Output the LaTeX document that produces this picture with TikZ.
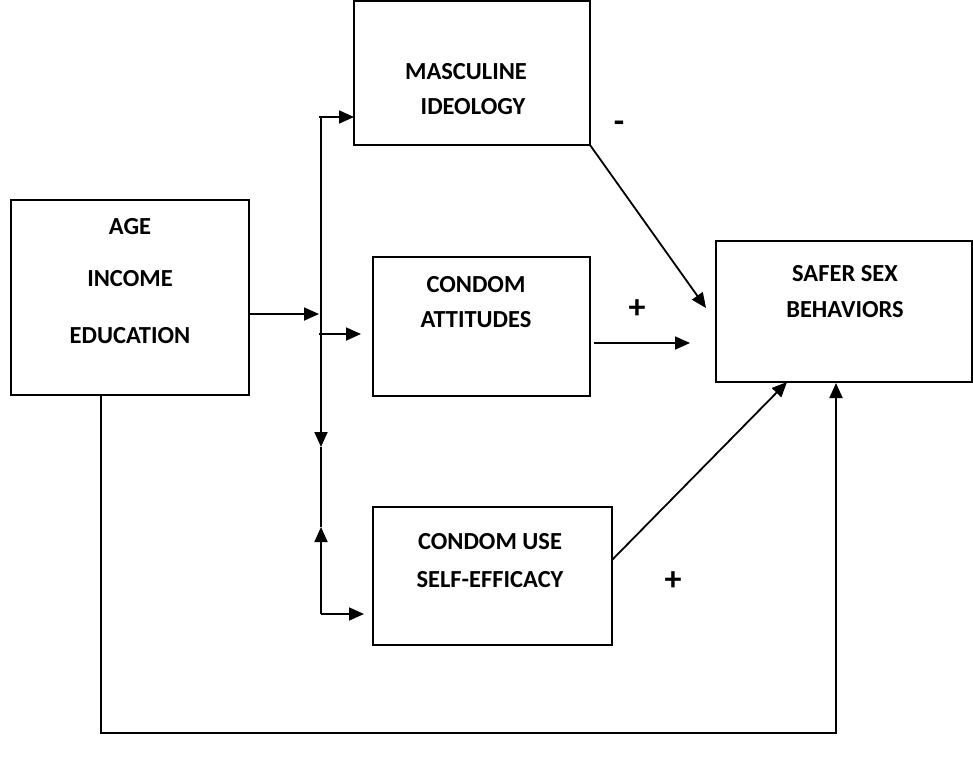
\documentclass[tikz,border=0pt]{standalone}
\usepackage{fontspec}
\setmainfont{Carlito}
\usetikzlibrary{arrows.meta}
\begin{document}
\begin{tikzpicture}[x=1pt,y=-1pt, line width=1.8pt,
 box/.style={draw, line width=1.6pt, inner sep=0pt, outer sep=0pt},
 lbl/.style={font=\bfseries\fontsize{24.5}{28}\selectfont, inner sep=0pt},
 sgn/.style={font=\bfseries\fontsize{34}{36}\selectfont, inner sep=0pt},
 arr/.style={-{Triangle[length=15pt,width=13pt]}}]
\useasboundingbox (0,0) rectangle (973,761);
% boxes
\node[box, minimum width=238pt, minimum height=195pt] (age) at (130,297.5) {};
\node[box, minimum width=236pt, minimum height=144pt] (masc) at (472,73) {};
\node[box, minimum width=217pt, minimum height=139pt] (att) at (481.5,326.5) {};
\node[box, minimum width=239pt, minimum height=138pt] (eff) at (492.5,576) {};
\node[box, minimum width=256pt, minimum height=141pt] (safe) at (844,311.5) {};
% texts
\node[lbl] (t1) at (130,227) {AGE};
\node[lbl] (t2) at (130,279) {INCOME};
\node[lbl] (t3) at (130,336) {EDUCATION};
\node[lbl] (t4) at (466,72) {MASCULINE};
\node[lbl] (t5) at (473,107) {IDEOLOGY};
\node[lbl] (t6) at (476,285) {CONDOM};
\node[lbl] (t7) at (476,320) {ATTITUDES};
\node[lbl] (t8) at (490,542) {CONDOM USE};
\node[lbl] (t9) at (490,580) {SELF-EFFICACY};
\node[lbl] (t10) at (845,274) {SAFER SEX};
\node[lbl] (t11) at (845,310) {BEHAVIORS};
\node[sgn] (m1) at (619,127) {-};
\node[sgn] (p1) at (637,309) {+};
\node[sgn] (p2) at (673,581) {+};
% trunk coordinates
\coordinate (a0) at (249,314);
\coordinate (a1) at (319,314);
\coordinate (tt) at (319,117);
\coordinate (mi) at (354,117);
\coordinate (ab) at (319,334);
\coordinate (ai) at (361,334);
\coordinate (d0) at (321,382);
\coordinate (d1) at (321,447);
\coordinate (u1) at (321,527);
\coordinate (bb) at (321,614);
\coordinate (ei) at (364,614);
% connectors
\draw[arr] (a0) -- (a1);
\draw[arr] (d0) |- (tt) -- (mi);
\draw[arr] (ab) -- (ai);
\draw[arr] (d0) -- (d1);
\draw (d1) -- (u1);
\draw[arr] (bb) -- (u1);
\draw[arr] (bb) -- (ei);
\draw[arr] (masc.south east) -- (706,308) coordinate (s1);
\coordinate (c0) at (594,343);
\coordinate (c1) at (690,343);
\draw[arr] (c0) -- (c1);
\coordinate (e0) at (612,560);
\draw[arr] (e0) -- (787,382);
\coordinate (g0) at (101,395);
\coordinate (g1) at (101,733);
\coordinate (g2) at (836,733);
\coordinate (g3) at (836,383);
\draw[arr] (g0) -- (g1) -- (g2) -- (g3);
\end{tikzpicture}
\end{document}
